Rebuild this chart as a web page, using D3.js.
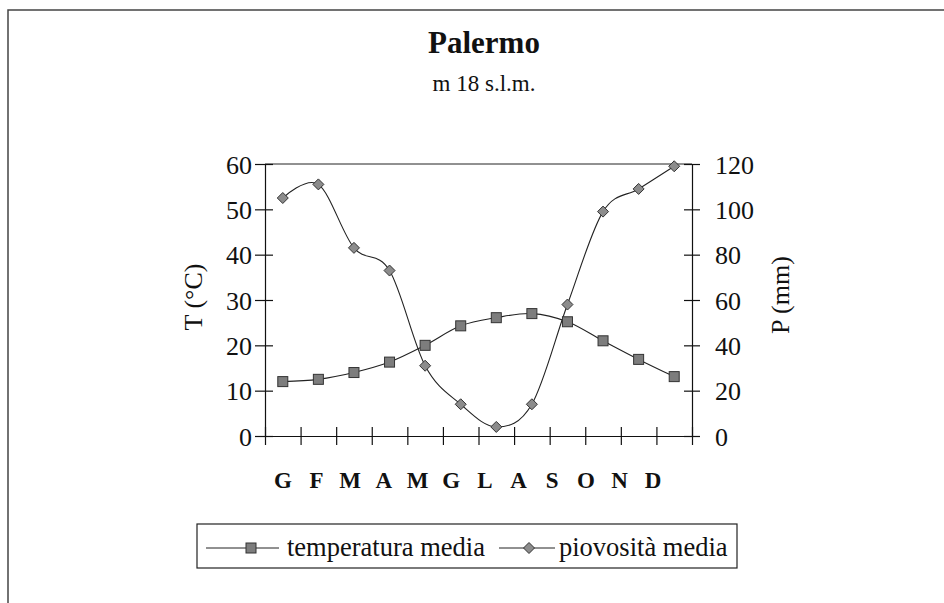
<!DOCTYPE html>
<html><head><meta charset="utf-8">
<script src="https://cdn.jsdelivr.net/npm/d3@7"></script>
<style>body{margin:0;background:#fff}svg{display:block}text{font-family:"Liberation Serif","Times New Roman",serif;fill:#111}</style>
</head><body><svg id="c" width="944" height="603"></svg>
<script>
const months = ["G","F","M","A","M","G","L","A","S","O","N","D"];
const temperatura = [12.0, 12.5, 14.0, 16.3, 20.0, 24.3, 26.1, 27.0, 25.2, 21.0, 16.9, 13.1];
const piovosita = [105, 111, 83, 73, 31, 14, 4, 14, 58, 99, 109, 119];
const tTicks = [0,10,20,30,40,50,60];
const pTicks = [0,20,40,60,80,100,120];

const svg = d3.select("#c");
const L = 265, R = 692, T = 164, B = 436;
const idx = d3.range(months.length);
const x = d3.scaleBand().domain(idx).range([L, R]);
const yT = d3.scaleLinear().domain([0,60]).range([B, T]);
const yP = d3.scaleLinear().domain([0,120]).range([B, T]);

// outer border
svg.append("path").attr("d","M8,603V10H944").attr("fill","none").attr("stroke","#444").attr("stroke-width",1.5);

// title
svg.append("text").attr("x",484).attr("y",53).attr("text-anchor","middle").attr("font-size",31).attr("font-weight","bold").text("Palermo");
svg.append("text").attr("x",484).attr("y",91).attr("text-anchor","middle").attr("font-size",23).text("m 18 s.l.m.");

// plot top border
svg.append("line").attr("x1",L).attr("x2",R).attr("y1",T).attr("y2",T).attr("stroke","#222").attr("stroke-width",1);

// axes
const ga = svg.append("g");
function styleAxis(g){ g.select(".domain").attr("stroke","#111").attr("stroke-width",1.2); g.selectAll(".tick line").attr("stroke","#111").attr("stroke-width",1.2); }
const left = ga.append("g").attr("transform",`translate(${L},0)`)
  .call(d3.axisLeft(yT).tickValues(tTicks).tickSize(10).tickPadding(3).tickSizeOuter(0));
left.selectAll(".tick line").attr("x2",-10).attr("x1",8);
left.selectAll("text").attr("font-size",26).attr("font-family","Liberation Serif").attr("fill","#111").attr("dy","0.35em");
styleAxis(left);
const right = ga.append("g").attr("transform",`translate(${R},0)`)
  .call(d3.axisRight(yP).tickValues(pTicks).tickSize(8).tickPadding(15).tickSizeOuter(0));
right.selectAll(".tick line").attr("x2",8).attr("x1",-8);
right.selectAll("text").attr("font-size",26).attr("font-family","Liberation Serif").attr("fill","#111").attr("dy","0.35em");
styleAxis(right);
// x axis ticks at category boundaries
const bx = d3.scaleLinear().domain([0,12]).range([L,R]);
const bottom = ga.append("g").attr("transform",`translate(0,${B})`)
  .call(d3.axisBottom(bx).ticks(12).tickSize(9).tickFormat("").tickSizeOuter(0));
bottom.selectAll(".tick line").attr("y1",-9).attr("y2",9);
styleAxis(bottom);
// month labels
const xl = d3.scaleBand().domain(idx).range([266, 670]);
svg.append("g").selectAll("text").data(months).join("text")
  .attr("x",(d,i)=>xl(i)+xl.bandwidth()/2).attr("y",488).attr("text-anchor","middle")
  .attr("font-size",23).attr("font-weight","bold").text(d=>d);

// axis titles
svg.append("text").attr("transform","translate(202,297) rotate(-90)").attr("text-anchor","middle").attr("font-size",26).text("T (°C)");
svg.append("text").attr("transform","translate(789,295) rotate(-90)").attr("text-anchor","middle").attr("font-size",26).text("P (mm)");

const cx = i => x(i) + x.bandwidth()/2;
const line = (ys, data) => d3.line().x((d,i)=>cx(i)).y(d=>ys(d)).curve(d3.curveCardinal.tension(0))(data);
svg.append("path").attr("d",line(yT,temperatura)).attr("fill","none").attr("stroke","#222").attr("stroke-width",1.1);
svg.append("path").attr("d",line(yP,piovosita)).attr("fill","none").attr("stroke","#222").attr("stroke-width",1.1);

function square(g, X, Y){ g.append("rect").attr("x",X-5).attr("y",Y-5).attr("width",10).attr("height",10).attr("fill","#7d7d7d").attr("stroke","#333").attr("stroke-width",1); }
function diamond(g, X, Y){ g.append("path").attr("d",`M${X},${Y-5.5}L${X+5.5},${Y}L${X},${Y+5.5}L${X-5.5},${Y}Z`).attr("fill","#8c8c8c").attr("stroke","#333").attr("stroke-width",1); }
const gm = svg.append("g");
temperatura.forEach((d,i)=>square(gm,cx(i),yT(d)));
piovosita.forEach((d,i)=>diamond(gm,cx(i),yP(d)));

// legend
svg.append("rect").attr("x",197).attr("y",524).attr("width",540).attr("height",44).attr("fill","none").attr("stroke","#222").attr("stroke-width",1.2);
const lg = svg.append("g");
lg.append("line").attr("x1",206).attr("x2",279).attr("y1",548).attr("y2",548).attr("stroke","#222");
square(lg,251,548);
lg.append("text").attr("x",287).attr("y",556).attr("font-size",26.5).text("temperatura media");
lg.append("line").attr("x1",499).attr("x2",555).attr("y1",548).attr("y2",548).attr("stroke","#222");
diamond(lg,529,548);
lg.append("text").attr("x",559).attr("y",556).attr("font-size",26.5).text("piovosità media");
</script></body></html>
